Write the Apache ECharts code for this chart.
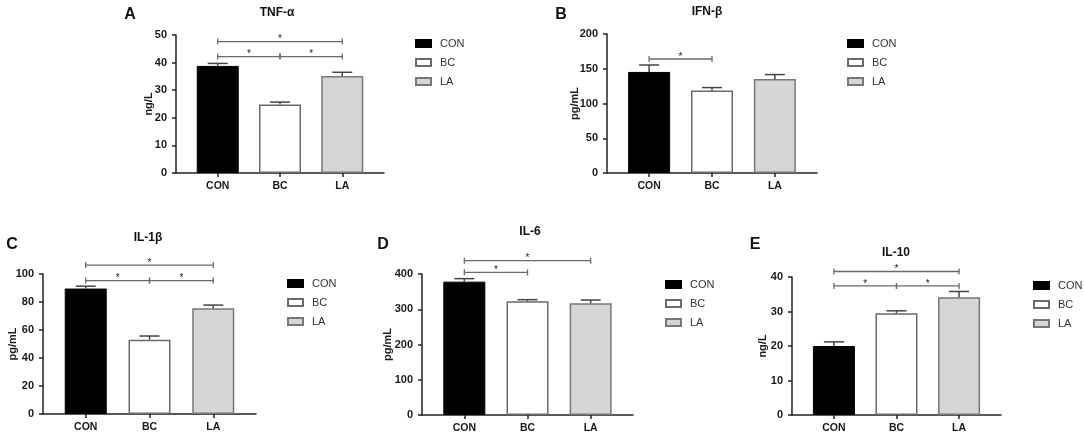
<!DOCTYPE html>
<html>
<head>
<meta charset="utf-8">
<script src="https://cdn.jsdelivr.net/npm/echarts@6/dist/echarts.min.js"></script>
<style>html,body{margin:0;padding:0;background:#fff}#c{width:1084px;height:438px}</style>
</head>
<body>
<div id="c"></div>
<script>
// ---- data ----
const categories = ['CON', 'BC', 'LA'];
const yTicksMax = [50, 200, 100, 400, 40];
const yTicksStep = [10, 50, 20, 100, 10];
const panelTitles = ['TNF-α', 'IFN-β', 'IL-1β', 'IL-6', 'IL-10'];
const panelLetters = ['A', 'B', 'C', 'D', 'E'];
const unitNames = ['ng/L', 'pg/mL', 'pg/mL', 'pg/mL', 'ng/L'];

const tnfMean = [38.8, 24.8, 35.1];
const tnfErr = [0.9, 0.9, 1.4];
const ifnMean = [145.4, 118.6, 135.4];
const ifnErr = [10.0, 4.3, 6.2];
const il1Mean = [89.6, 53.1, 75.5];
const il1Err = [1.7, 2.6, 2.3];
const il6Mean = [378.3, 322.5, 316.8];
const il6Err = [8.5, 4.7, 9.4];
const il10Mean = [20.0, 29.5, 34.1];
const il10Err = [1.2, 0.7, 1.7];

// significance brackets: [fromIndex, toIndex, level]
const tnfSig = [[0, 1, 42.2], [1, 2, 42.2], [0, 2, 47.6]];
const ifnSig = [[0, 1, 164]];
const il1Sig = [[0, 1, 95.3], [1, 2, 95.3], [0, 2, 106.4]];
const il6Sig = [[0, 1, 404.7], [0, 2, 437.8]];
const il10Sig = [[0, 1, 37.4], [1, 2, 37.4], [0, 2, 41.6]];

const means = [tnfMean, ifnMean, il1Mean, il6Mean, il10Mean];
const errs = [tnfErr, ifnErr, il1Err, il6Err, il10Err];
const sigs = [tnfSig, ifnSig, il1Sig, il6Sig, il10Sig];

// ---- layout ----
const FONT = 'Arial, "Liberation Sans", sans-serif';
const grids = [
  {left: 176, top: 35, width: 208, height: 138},
  {left: 607, top: 34, width: 210, height: 139},
  {left: 43, top: 274, width: 213, height: 140},
  {left: 422, top: 274, width: 211, height: 141},
  {left: 792, top: 277, width: 209, height: 138}
];
const nameGaps = [22, 27, 25, 29, 24];
const titlePos = [[277, 13], [707, 12], [148, 238], [530, 232], [896, 253]];
const letterPos = [[130, 15], [561, 15], [12, 245], [383, 245], [755, 245]];
const legendPos = [[415, 38], [847, 38], [287, 278], [665, 279], [1033, 280]];

const barStyles = {
  CON: {color: '#000000', borderColor: '#000000', borderWidth: 1},
  BC: {color: '#ffffff', borderColor: '#6a6a6a', borderWidth: 1.5},
  LA: {color: '#d6d6d6', borderColor: '#777777', borderWidth: 1.5}
};

const AX = '#222222';
const xAxes = [], yAxes = [], series = [], legends = [], graphics = [];

function renderErr(params, api) {
  const x = api.value(0), v = api.value(1), e = api.value(2);
  const b = api.coord([x, v]);
  const t = api.coord([x, v + e]);
  const hw = 10;
  return {
    type: 'group',
    children: [
      {type: 'line', shape: {x1: b[0], y1: b[1], x2: t[0], y2: t[1]}, style: {stroke: '#444', lineWidth: 1.5}},
      {type: 'line', shape: {x1: t[0] - hw, y1: t[1], x2: t[0] + hw, y2: t[1]}, style: {stroke: '#444', lineWidth: 1.5}}
    ]
  };
}

function renderSig(params, api) {
  const a = api.coord([api.value(0), api.value(2)]);
  const b = api.coord([api.value(1), api.value(2)]);
  const tk = 3;
  const st = {stroke: '#6a6a6a', lineWidth: 1.3};
  return {
    type: 'group',
    children: [
      {type: 'line', shape: {x1: a[0], y1: a[1], x2: b[0], y2: b[1]}, style: st},
      {type: 'line', shape: {x1: a[0], y1: a[1] - tk, x2: a[0], y2: a[1] + tk}, style: st},
      {type: 'line', shape: {x1: b[0], y1: b[1] - tk, x2: b[0], y2: b[1] + tk}, style: st},
      {type: 'text', x: (a[0] + b[0]) / 2, y: a[1] - 2,
        style: {text: '*', fontSize: 10, fontFamily: FONT, fill: '#222', textAlign: 'center', textVerticalAlign: 'middle'}}
    ]
  };
}

for (let p = 0; p < 5; p++) {
  xAxes.push({
    gridIndex: p, type: 'value', min: -0.67, max: 2.67,
    splitLine: {show: false},
    axisLine: {show: true, onZero: false, lineStyle: {color: AX, width: 1.5}},
    axisTick: {show: true, customValues: [0, 1, 2], length: 4, lineStyle: {color: AX, width: 1.5}},
    axisLabel: {customValues: [0, 1, 2], formatter: v => categories[Math.round(v)],
      fontFamily: FONT, fontWeight: 'bold', fontSize: 10.5, color: '#1a1a1a', margin: 8}
  });
  yAxes.push({
    gridIndex: p, type: 'value', min: 0, max: yTicksMax[p], interval: yTicksStep[p],
    name: unitNames[p], nameLocation: 'middle', nameGap: nameGaps[p], nameMoveOverlap: false,
    nameTextStyle: {fontFamily: FONT, fontWeight: 'bold', fontSize: 11, color: '#1a1a1a'},
    splitLine: {show: false},
    axisLine: {show: true, onZero: false, lineStyle: {color: AX, width: 1.5}},
    axisTick: {show: true, length: 4, lineStyle: {color: AX, width: 1.5}},
    axisLabel: {fontFamily: FONT, fontWeight: 'bold', fontSize: 11, color: '#1a1a1a', margin: 9}
  });
  categories.forEach((c, i) => {
    series.push({
      type: 'bar', name: c, xAxisIndex: p, yAxisIndex: p,
      barWidth: 42, barGap: '-100%',
      itemStyle: barStyles[c],
      data: [[i, means[p][i]]],
      z: 2
    });
  });
  series.push({
    type: 'custom', xAxisIndex: p, yAxisIndex: p, clip: false, z: 3,
    renderItem: renderErr,
    encode: {x: 0, y: 1},
    data: categories.map((c, i) => [i, means[p][i], errs[p][i]])
  });
  series.push({
    type: 'custom', xAxisIndex: p, yAxisIndex: p, clip: false, z: 3,
    renderItem: renderSig,
    encode: {x: [0, 1], y: 2},
    data: sigs[p]
  });
  legends.push({
    orient: 'vertical', left: legendPos[p][0], top: legendPos[p][1], padding: 0,
    itemWidth: 15, itemHeight: 7, itemGap: 8, icon: 'rect',
    selectedMode: false, data: categories,
    textStyle: {fontFamily: FONT, fontSize: 11, color: '#333', padding: [0, 0, 0, 4]}
  });
  graphics.push({
    type: 'text', x: titlePos[p][0], y: titlePos[p][1],
    style: {text: panelTitles[p], fontFamily: FONT, fontWeight: 'bold', fontSize: 12, fill: '#111',
      textAlign: 'center', textVerticalAlign: 'middle'}
  });
  graphics.push({
    type: 'text', x: letterPos[p][0], y: letterPos[p][1],
    style: {text: panelLetters[p], fontFamily: FONT, fontWeight: 'bold', fontSize: 16, fill: '#111',
      textAlign: 'center', textVerticalAlign: 'middle'}
  });
}

const chart = echarts.init(document.getElementById('c'), null, {renderer: 'canvas'});
chart.setOption({
  animation: false,
  backgroundColor: '#ffffff',
  grid: grids,
  xAxis: xAxes,
  yAxis: yAxes,
  legend: legends,
  series: series,
  graphic: graphics
});
</script>
</body>
</html>
